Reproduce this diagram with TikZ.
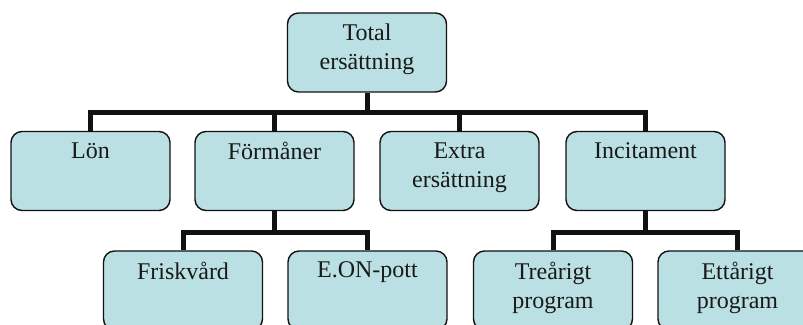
\documentclass[tikz,border=0pt]{standalone}
\usepackage{fontspec}
\setmainfont{Liberation Serif}
\usepackage{tikz}
\definecolor{orgfill}{HTML}{BAE0E3}
\definecolor{orgline}{HTML}{111111}
\newcommand{\boxtext}[1]{\parbox[c][57pt][t]{150pt}{\centering #1}}

\begin{document}
\begin{tikzpicture}[
      x=1pt, y=1pt,
      font=\fontsize{24}{29}\selectfont,
      orgbox/.style={rectangle, rounded corners=11pt, draw=orgline, line width=1.4pt,
                     fill=orgfill, text=black!90, inner sep=0pt,
                     minimum width=159pt, minimum height=79pt},
      conn/.style={orgline, line width=5pt},
    ]
    \useasboundingbox (0,0) rectangle (803,324);
    \clip (0,0) rectangle (803,324);

    % ---------------- top
    \node[orgbox] (tot) at (367,271.5) {\boxtext{Total\\ersättning}};

    % ---------------- first row
    \node[orgbox] (lon)   at (90.5,153)  {\boxtext{Lön}};
    \node[orgbox] (form)  at (274.5,153) {\boxtext{Förmåner}};
    \node[orgbox] (extra) at (459.5,153) {\boxtext{Extra\\ersättning}};
    \node[orgbox] (inc)   at (645.5,153) {\boxtext{Incitament}};

    % ---------------- second row
    \node[orgbox] (frisk) at (183,33.5)   {\boxtext{Friskvård}};
    \node[orgbox] (eon)   at (367.5,33.5) {\boxtext{E.ON-pott}};
    \node[orgbox] (tre)   at (553,33.5)   {\boxtext{Treårigt\\program}};
    \node[orgbox] (ett)   at (737.5,33.5) {\boxtext{Ettårigt\\program}};

    % ---------------- connectors
    \foreach \c in {lon, form, extra, inc}
      \draw[conn] (tot.south) -- ++(0,-20) -| (\c.north);
    \foreach \c in {frisk, eon}
      \draw[conn] (form.south) -- ++(0,-21) -| (\c.north);
    \foreach \c in {tre, ett}
      \draw[conn] (inc.south) -- ++(0,-21) -| (\c.north);
  \end{tikzpicture}
\end{document}
